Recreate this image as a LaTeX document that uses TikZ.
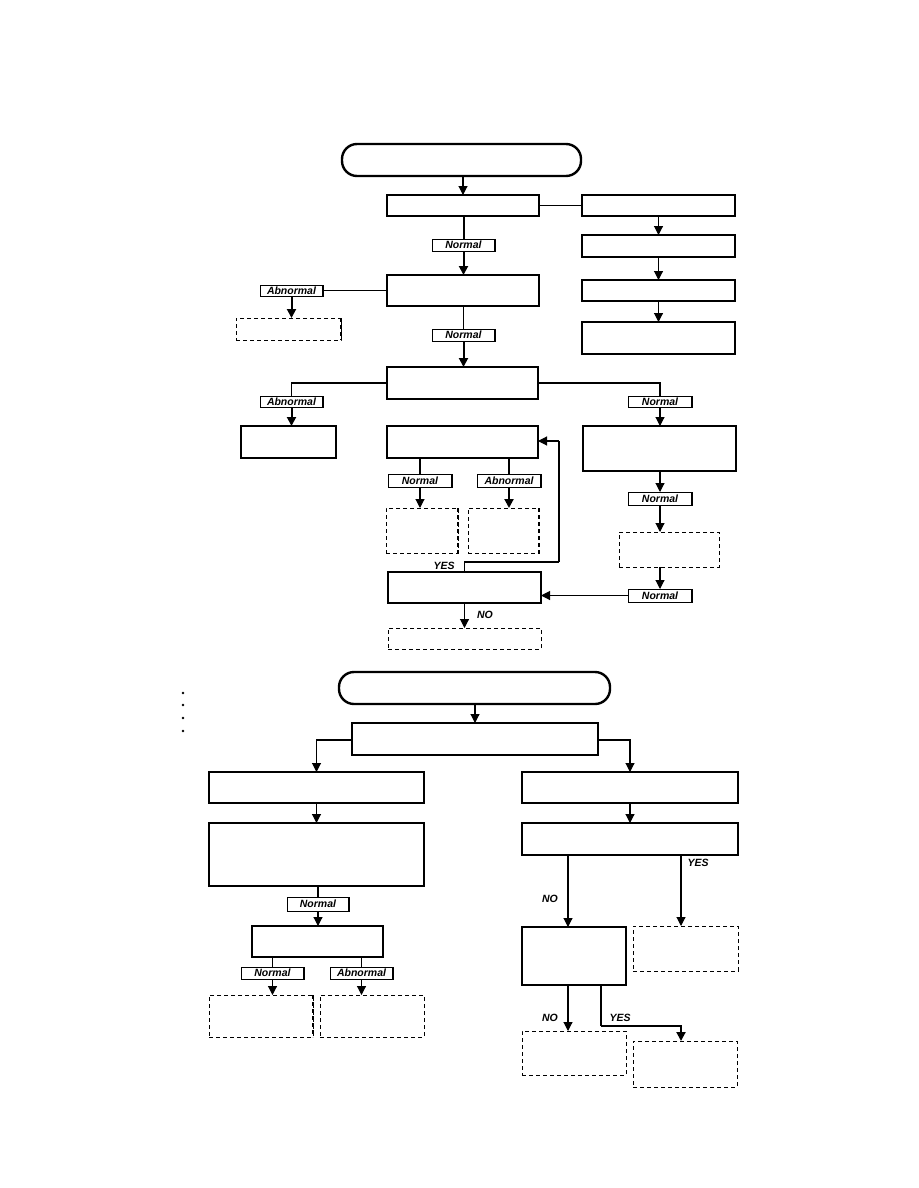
\documentclass[tikz,border=0pt]{standalone}
\usepackage{fontspec}
\newfontfamily\labfont{Liberation Sans}
\usetikzlibrary{arrows.meta}
\newcommand\mkbox[6]{%
  \pgfmathsetmacro\bxw{#5-#3}\pgfmathsetmacro\bxh{#6-#4}%
  \pgfmathsetmacro\bxcx{(#3+#5)/2}\pgfmathsetmacro\bxcy{(#4+#6)/2}%
  \node[#2,minimum width=\bxw pt,minimum height=\bxh pt] (#1) at (\bxcx,\bxcy) {};}
\newcommand\mklab[6]{%
  \pgfmathsetmacro\bxw{#5-#3}\pgfmathsetmacro\bxh{#6-#4}%
  \pgfmathsetmacro\bxcx{(#3+#5)/2}\pgfmathsetmacro\bxcy{(#4+#6)/2}%
  \node[lab,minimum width=\bxw pt,minimum height=\bxh pt] (#1) at (\bxcx,\bxcy) {#2};
  \draw[thk] (#1.north east) -- (#1.south east);}
\begin{document}
\begin{tikzpicture}[x=1pt,y=-1pt,
  box/.style={draw, line width=1.1pt, inner sep=0pt, outer sep=0pt},
  dbox/.style={draw, line width=1pt, dash pattern=on 4pt off 3pt, inner sep=0pt, outer sep=0pt},
  term/.style={draw, line width=2.4pt, rounded corners=15pt, inner sep=0pt, outer sep=0pt},
  lab/.style={draw, line width=1pt, inner sep=0pt, outer sep=0pt, font=\labfont\bfseries\itshape\fontsize{10.5}{11}\selectfont},
  yn/.style={inner sep=0pt, font=\labfont\bfseries\itshape\fontsize{10.5}{11}\selectfont},
  arr/.style={-{Triangle[length=9pt,width=9pt]}, line width=1.1pt},
  tarr/.style={-{Triangle[length=9pt,width=9pt]}, line width=2pt},
  ln/.style={line width=1.1pt},
  tln/.style={line width=2pt},
  thk/.style={line width=2.4pt},
  dthk/.style={line width=2.4pt, dash pattern=on 4pt off 3pt}]
\fill[white] (0,0) rectangle (918,1188);
\useasboundingbox (0,0) rectangle (918,1188);

% ---------- top chart ----------
\mkbox{T1}{term}{342}{144}{581}{176}
\mkbox{A}{box}{387}{195}{539}{216}
\draw[thk] (A.north east) -- (A.south east);
\mkbox{B1}{box}{582}{195}{735}{216}
\mkbox{B2}{box}{582}{235}{735}{257}
\mkbox{B3}{box}{582}{280}{735}{301}
\mkbox{B4}{box}{582}{322}{735}{354}
\draw[thk] (B4.north west) -- (B4.north east);
\mklab{NL1}{Normal}{432}{239}{495}{251}
\mkbox{C}{box}{387}{275}{539}{306}
\mklab{AL1}{Abnormal}{260}{285}{323}{296}
\mkbox{DA1}{dbox}{236}{318}{341}{340}
\draw[dthk] (DA1.north east) -- (DA1.south east);
\mklab{NL2}{Normal}{432}{329}{495}{341}
\mkbox{D}{box}{387}{367}{538}{399}
\mklab{AL2}{Abnormal}{260}{396}{323}{407}
\mkbox{E}{box}{241}{426}{336}{458}
\mklab{NL3}{Normal}{628}{396}{692}{407}
\mkbox{F}{box}{583}{426}{736}{471}
\mkbox{G}{box}{387}{426}{538}{458}
\draw[thk] (G.south west) -- (G.south east);
\mklab{NL4}{Normal}{388}{474}{452}{487}
\mklab{AL3}{Abnormal}{477}{474}{541}{487}
\mkbox{H}{dbox}{386}{508}{458}{553}
\draw[dthk] (H.north east) -- (H.south east);
\mkbox{I}{dbox}{468}{508}{539}{553}
\draw[dthk] (I.north east) -- (I.south east);
\mklab{NL5}{Normal}{628}{492}{692}{505}
\mkbox{K}{dbox}{619}{532}{719}{567}
\mklab{NL6}{Normal}{628}{589}{692}{602}
\mkbox{J}{box}{388}{572}{541}{603}
\mkbox{L}{dbox}{388}{628}{541}{649}
\coordinate (y1) at (559,562);
\coordinate (y2) at (559,441);

\draw[arr] (A.north |- T1.south) -- (A.north);
\draw[ln] (A.east) -- (B1.west);
\draw[arr] (B1.south) -- (B2.north);
\draw[arr] (B2.south) -- (B3.north);
\draw[arr] (B3.south) -- (B4.north);
\draw[tln] (NL1.north |- A.south) -- (NL1.north);
\draw[tarr] (NL1.south) -- (NL1.south |- C.north);
\draw[ln] (C.west) -- (C.west -| AL1.east);
\draw[tarr] (AL1.south) -- (AL1.south |- DA1.north);
\draw[ln] (NL2.north |- C.south) -- (NL2.north);
\draw[tarr] (NL2.south) -- (NL2.south |- D.north);
\draw[ln] (D.west) -| (AL2.north);
\draw[tarr] (AL2.south) -- (AL2.south |- E.north);
\draw[ln] (D.east) -| (NL3.north);
\draw[arr] (NL3.south) -- (NL3.south |- F.north);
\draw[ln] (NL4.north |- G.south) -- (NL4.north);
\draw[arr] (NL4.south) -- (NL4.south |- H.north);
\draw[tln] (AL3.north |- G.south) -- (AL3.north);
\draw[tarr] (AL3.south) -- (AL3.south |- I.north);
\draw[arr] (F.south -| NL5.north) -- (NL5.north);
\draw[arr] (NL5.south) -- (NL5.south |- K.north);
\draw[arr] (NL6.north |- K.south) -- (NL6.north);
\draw[arr] (NL6.west) -- (NL6.west -| J.east);
\draw[ln] (J.north) |- (y1);
\draw[tln] (y1) -- (y2);
\draw[arr] (y2) -- (y2 -| G.east);
\draw[arr] (J.south) -- (J.south |- L.north);
\node[yn] (yes1) at (444,566) {YES};
\node[yn] (no1) at (485,615) {NO};

% ---------- bottom chart ----------
\foreach \yy in {693,705,718,731} \fill (183,\yy) circle (1.3pt);
\mkbox{T2}{term}{339}{672}{610}{704}
\mkbox{M}{box}{352}{723}{598}{755}
\mkbox{N}{box}{209}{772}{424}{803}
\draw[thk] (N.south west) -- (N.south east);
\mkbox{P}{box}{209}{823}{424}{886}
\mklab{NL7}{Normal}{287}{897}{349}{911}
\mkbox{Q}{box}{252}{926}{383}{957}
\draw[thk] (Q.north west) -- (Q.north east);
\mklab{NL8}{Normal}{241}{967}{304}{979}
\mklab{AL4}{Abnormal}{330}{967}{393}{979}
\mkbox{R}{dbox}{209}{995}{313}{1037}
\draw[dthk] (R.north east) -- (R.south east);
\mkbox{S}{dbox}{320}{995}{424}{1037}
\mkbox{O}{box}{522}{772}{738}{803}
\draw[thk] (O.south west) -- (O.south east);
\mkbox{T}{box}{522}{823}{738}{855}
\draw[thk] (T.south west) -- (T.south east);
\mkbox{U}{box}{522}{927}{626}{985}
\mkbox{V}{dbox}{633}{926}{738}{971}
\mkbox{W}{dbox}{522}{1031}{626}{1075}
\mkbox{X}{dbox}{633}{1041}{737}{1087}

\draw[arr] (M.north |- T2.south) -- (M.north);
\draw[arr] ([yshift=-1pt]M.west) -| (N.north);
\draw[arr] ([yshift=-1pt]M.east) -| (O.north);
\draw[arr] (N.south) -- (N.south |- P.north);
\draw[ln] (NL7.north |- P.south) -- (NL7.north);
\draw[arr] (NL7.south) -- (NL7.south |- Q.north);
\draw[ln] (NL8.north |- Q.south) -- (NL8.north);
\draw[arr] (NL8.south) -- (NL8.south |- R.north);
\draw[ln] (AL4.north |- Q.south) -- (AL4.north);
\draw[arr] (AL4.south) -- (AL4.south |- S.north);
\draw[arr] (O.south) -- (O.south |- T.north);
\draw[arr] ([xshift=-62pt]T.south) -- ([xshift=-6pt]U.north);
\draw[arr] ([xshift=51pt]T.south) -- ([xshift=-4.5pt]V.north);
\draw[arr] ([xshift=-6pt]U.south) -- ([xshift=-6pt]W.north);
\draw[ln] ([xshift=27pt]U.south) -- ([xshift=27pt,yshift=-41pt]U.south);
\draw[tarr] ([xshift=27pt,yshift=-41pt]U.south) -| ([xshift=-4pt]X.north);
\node[yn] (yes2) at (698,863) {YES};
\node[yn] (no2) at (550,899) {NO};
\node[yn] (no3) at (550,1018) {NO};
\node[yn] (yes3) at (620,1018) {YES};
\end{tikzpicture}
\end{document}
